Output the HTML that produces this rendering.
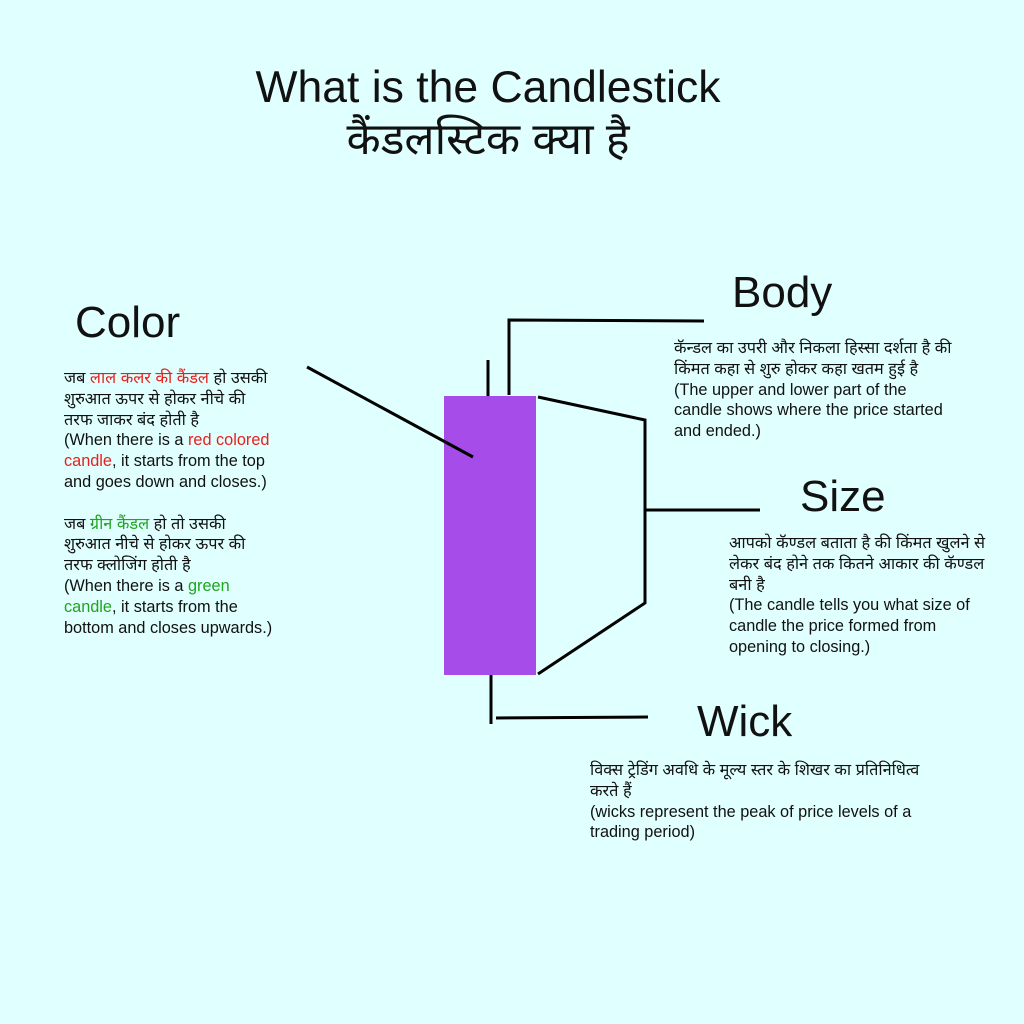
<!DOCTYPE html>
<html><head><meta charset="utf-8"><style>
body{margin:0;width:1024px;height:1024px;background:#e0ffff;position:relative;overflow:hidden;font-family:"Liberation Sans","Noto Sans Devanagari","Lohit Devanagari",sans-serif;color:#111}
.a{position:absolute;white-space:nowrap}
.t{font-size:16.3px;line-height:20.8px}
.h{font-size:44px;line-height:50px}
.r{color:#e8201c}.g{color:#1fa51f}
</style></head><body>
<div class="a" style="left:0;width:976px;top:62px;text-align:center;font-size:44.5px;line-height:52px">What is the Candlestick<br>कैंडलस्टिक क्या है</div>
<div class="a h" style="left:75px;top:298px">Color</div>
<div class="a h" style="left:732px;top:268px">Body</div>
<div class="a h" style="left:800px;top:472px">Size</div>
<div class="a h" style="left:697px;top:697px">Wick</div>
<div class="a t" style="left:64px;top:368px">जब <span class="r">लाल कलर की कैंडल</span> हो उसकी<br>शुरुआत ऊपर से होकर नीचे की<br>तरफ जाकर बंद होती है<br>(When there is a <span class="r">red colored</span><br><span class="r">candle</span>, it starts from the top<br>and goes down and closes.)<br><br>जब <span class="g">ग्रीन कैंडल</span> हो तो उसकी<br>शुरुआत नीचे से होकर ऊपर की<br>तरफ क्लोजिंग होती है<br>(When there is a <span class="g">green</span><br><span class="g">candle</span>, it starts from the<br>bottom and closes upwards.)</div>
<div class="a t" style="left:674px;top:338px">कॅन्डल का उपरी और निकला हिस्सा दर्शता है की<br>किंमत कहा से शुरु होकर कहा खतम हुई है<br>(The upper and lower part of the<br>candle shows where the price started<br>and ended.)</div>
<div class="a t" style="left:729px;top:533px">आपको कॅण्डल बताता है की किंमत खुलने से<br>लेकर बंद होने तक कितने आकार की कॅण्डल<br>बनी है<br>(The candle tells you what size of<br>candle the price formed from<br>opening to closing.)</div>
<div class="a t" style="left:590px;top:760px">विक्स ट्रेडिंग अवधि के मूल्य स्तर के शिखर का प्रतिनिधित्व<br>करते हैं<br>(wicks represent the peak of price levels of a<br>trading period)</div>
<svg class="a" style="left:0;top:0" width="1024" height="1024">
<rect x="444" y="396" width="92" height="279" fill="#a64ce8"/>
<g stroke="#000" stroke-width="3" fill="none">
<line x1="307" y1="367" x2="473" y2="457"/>
<line x1="488" y1="360" x2="488" y2="396"/>
<polyline points="509,395 509,320 704,321"/>
<polyline points="538,397 645,420 645,603 538,674"/>
<line x1="645" y1="510" x2="760" y2="510"/>
<line x1="491" y1="675" x2="491" y2="724"/>
<line x1="496" y1="718" x2="648" y2="717"/>
</g></svg>
</body></html>
